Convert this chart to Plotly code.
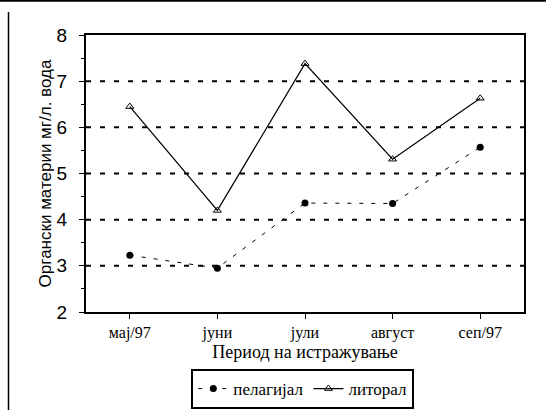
import plotly.graph_objects as go

# Sampling periods and organic matter concentrations (mg/l water)
periods = ["мај/97", "јуни", "јули", "август", "сеп/97"]
pelagial = [3.23, 2.95, 4.36, 4.35, 5.57]
litoral = [6.45, 4.2, 7.38, 5.31, 6.63]
y_ticks = [2, 3, 4, 5, 6, 7, 8]

W, H = 546, 410
L, R, T, B = 86, 22, 35, 98
pw, ph = W - L - R, H - T - B

def px_x(p):
    return (p - L) / pw

def px_y(p):
    return (H - B - p) / ph

fig = go.Figure()

fig.add_trace(go.Scatter(
    x=periods, y=pelagial, name="пелагијал",
    mode="lines+markers",
    line=dict(color="black", width=1, dash="4px,8px"),
    marker=dict(symbol="circle", size=7, color="black"),
))
fig.add_trace(go.Scatter(
    x=periods, y=litoral, name="литорал",
    mode="lines+markers",
    line=dict(color="black", width=1.2),
    marker=dict(symbol="triangle-up-open", size=7, color="black",
                line=dict(width=1, color="black")),
))

# dashed horizontal grid lines at the inner major ticks
for v in y_ticks[1:-1]:
    fig.add_shape(type="line", xref="paper", yref="y", x0=0, x1=1, y0=v, y1=v,
                  line=dict(color="black", width=2, dash="5px,9px"), layer="below")

# outer frame lines of the figure panel
fig.add_shape(type="line", xref="paper", yref="paper",
              x0=px_x(0), x1=px_x(W), y0=px_y(0.8), y1=px_y(0.8),
              line=dict(color="black", width=2))
fig.add_shape(type="line", xref="paper", yref="paper",
              x0=px_x(8.5), x1=px_x(8.5), y0=px_y(12), y1=px_y(H),
              line=dict(color="black", width=1.5))

fig.update_layout(
    width=W, height=H,
    margin=dict(l=L, r=R, t=T, b=B, autoexpand=False),
    plot_bgcolor="white", paper_bgcolor="white",
    showlegend=True,
    legend=dict(
        orientation="h", x=0.495, xanchor="center", y=px_y(369), yanchor="top",
        bordercolor="black", borderwidth=2,
        font=dict(family="Liberation Serif", size=17, color="black"),
        itemwidth=30, tracegroupgap=0,
    ),
    xaxis=dict(
        type="category", range=[-0.5, 4.5],
        showline=True, linecolor="black", linewidth=2, mirror=True,
        ticks="outside", ticklen=5, tickcolor="black", tickwidth=1,
        showgrid=False, zeroline=False,
        tickfont=dict(family="Liberation Serif", size=16, color="black"),
        title=dict(text="Период на истражување", standoff=2,
                   font=dict(family="Liberation Serif", size=18, color="black")),
    ),
    yaxis=dict(
        range=[2, 8], tickvals=y_ticks,
        showline=True, linecolor="black", linewidth=2, mirror=True,
        ticks="outside", ticklen=5, tickcolor="black", tickwidth=1,
        minor=dict(dtick=0.5, ticks="outside", ticklen=3, tickcolor="black"),
        showgrid=False, zeroline=False,
        ticklabelstandoff=8,
        tickfont=dict(family="Liberation Sans", size=19, color="black"),
        title=dict(text="Органски материи мг/л. вода", standoff=1,
                   font=dict(family="Liberation Sans", size=17, color="black")),
    ),
)

fig.write_html("out.html")
